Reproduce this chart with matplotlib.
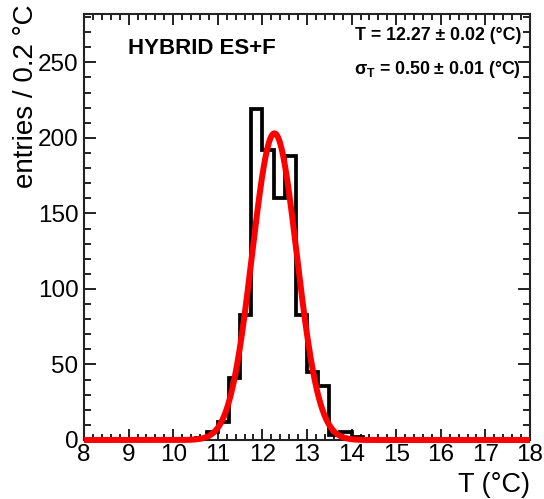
import numpy as np
import matplotlib
matplotlib.use("Agg")
import matplotlib.pyplot as plt
from matplotlib.ticker import MultipleLocator

plt.rcParams['font.family'] = ['Liberation Sans', 'DejaVu Sans']
plt.rcParams['mathtext.fontset'] = 'custom'
plt.rcParams['mathtext.rm'] = 'Liberation Sans:bold'
plt.rcParams['mathtext.it'] = 'Liberation Sans:bold'
plt.rcParams['mathtext.bf'] = 'Liberation Sans:bold'

# ---- data ----
bin_width = 0.25
x_min, x_max = 8.0, 18.0
bin_low = [10.5, 10.75, 11.0, 11.25, 11.5, 11.75, 12.0, 12.25, 12.5, 12.75,
           13.0, 13.25, 13.5, 13.75, 14.0]
counts = [1, 5, 12, 41, 83, 219, 192, 160, 188, 83, 45, 36, 3, 5, 2]

fit_mean = 12.27
fit_sigma = 0.50
fit_amp = 203.0

label_title = "HYBRID ES+F"
label_mean = "T = 12.27 ± 0.02 (°C)"
label_sigma = "$\\sigma_{T}$ = 0.50 ± 0.01 (°C)"
xlabel = "T (°C)"
ylabel = "entries / 0.2 °C"

# ---- build full histogram ----
edges = np.arange(x_min, x_max + bin_width / 2, bin_width)
values = np.zeros(len(edges) - 1)
for lo, c in zip(bin_low, counts):
    idx = int(round((lo - x_min) / bin_width))
    values[idx] = c

fig = plt.figure(figsize=(5.44, 4.99), dpi=100)
ax = fig.add_axes([84 / 544, 1 - 440 / 499, (530 - 84) / 544, (440 - 14) / 499])

ax.stairs(values, edges, color='black', lw=2.7, zorder=3, baseline=0)

xs = np.linspace(x_min, x_max, 1000)
ys = fit_amp * np.exp(-0.5 * ((xs - fit_mean) / fit_sigma) ** 2)
ax.plot(xs, ys, color='#ff0000', lw=4.3, zorder=4, clip_on=False,
        solid_capstyle='butt')

ax.set_xlim(x_min, x_max)
ax.set_ylim(0, 282)

ax.xaxis.set_major_locator(MultipleLocator(1))
ax.xaxis.set_minor_locator(MultipleLocator(0.2))
ax.yaxis.set_major_locator(MultipleLocator(50))
ax.yaxis.set_minor_locator(MultipleLocator(10))

ax.tick_params(which='both', direction='in', top=True, right=True,
               width=1.4, color='#222222')
ax.tick_params(axis='x', which='major', length=8, pad=3, labelsize=17.5)
ax.tick_params(axis='x', which='minor', length=4.5)
ax.tick_params(axis='y', which='major', length=8.5, pad=4, labelsize=17.5)
ax.tick_params(axis='y', which='minor', length=5)
for sp in ax.spines.values():
    sp.set_linewidth(1.5)
    sp.set_color('#222222')

fig.text(128 / 544, 1 - 48 / 499, label_title, fontsize=16, fontweight='bold',
         ha='left', va='center')
fig.text(521 / 544, 1 - 36 / 499, label_mean, fontsize=12.8, fontweight='bold',
         ha='right', va='center')
fig.text(521 / 544, 1 - 70 / 499, label_sigma, fontsize=12.8, fontweight='bold',
         ha='right', va='center')

fig.text(26 / 544, 1 - 4 / 499, ylabel, fontsize=20, rotation=90,
         ha='center', va='top')
fig.text(530 / 544, 1 - 485 / 499, xlabel, fontsize=19.5,
         ha='right', va='center')

fig.savefig('out.png', dpi=100)
